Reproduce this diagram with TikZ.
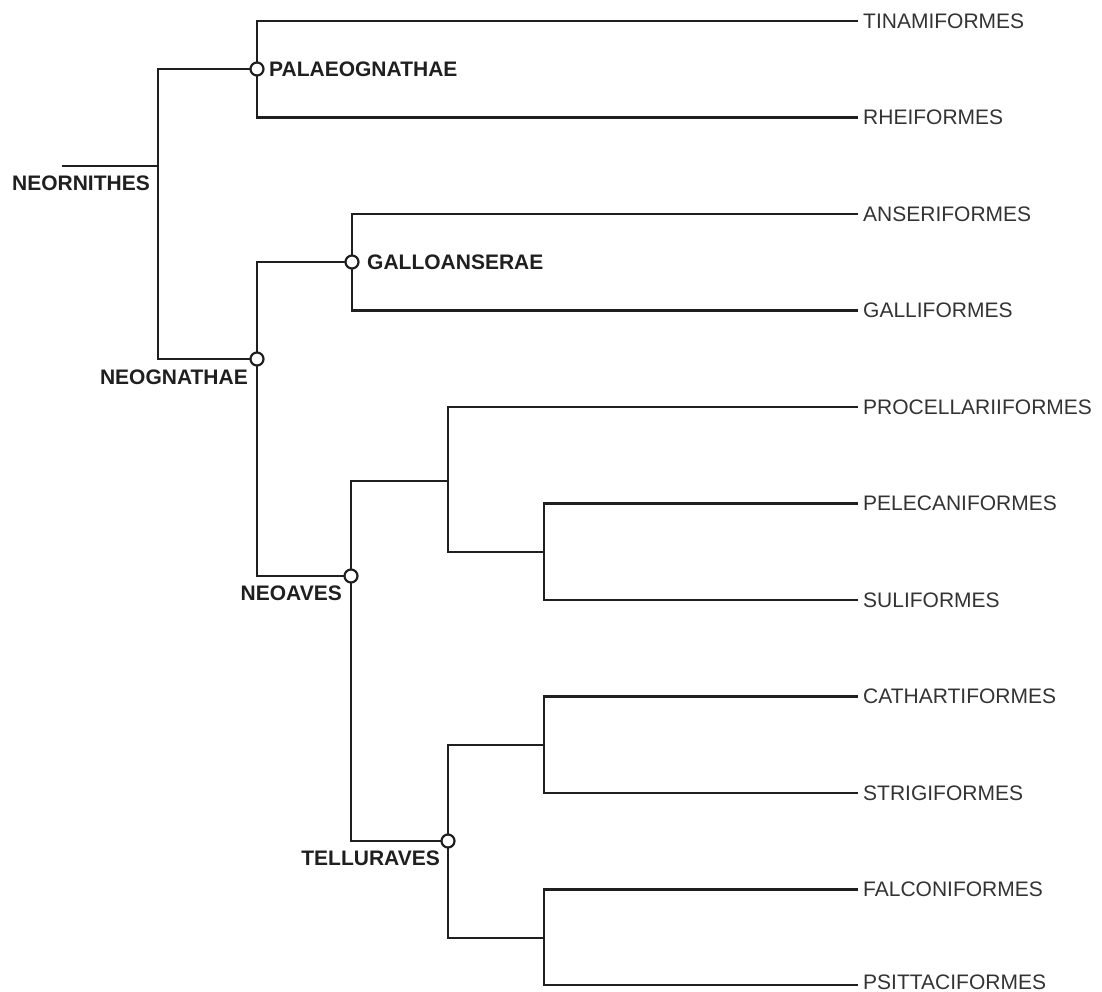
\documentclass[tikz,border=0pt]{standalone}
\usepackage{fontspec}
\setmainfont{Liberation Sans}
\begin{document}
\begin{tikzpicture}[x=1pt,y=-1pt,
  branch/.style={line width=2.8pt,draw=black!88,line cap=rect},
  cladecirc/.style={circle,draw=black!88,line width=2.2pt,fill=white,minimum size=13pt,inner sep=0pt},
  leaflab/.style={anchor=west,inner sep=0pt,text=black!80,font=\fontsize{21}{25}\selectfont},
  cladelab/.style={inner sep=0pt,text=black!88,font=\fontsize{21}{25}\selectfont\bfseries}]
\useasboundingbox (0,0) rectangle (1102,992);
% tree points
\coordinate (r0) at (63,166);
\coordinate (r) at (158,166);
\coordinate (palaeo) at (257,69);
\coordinate (neog) at (257,359);
\coordinate (gallo) at (352,262);
\coordinate (neoaves) at (351,576);
\coordinate (procc) at (448,481);
\coordinate (pelc) at (544,552);
\coordinate (tell) at (448,841);
\coordinate (cathc) at (544,745);
\coordinate (falc) at (544,938);
% leaf ends
\coordinate (tinE) at (857,21);
\coordinate (rheE) at (857,117.5);
\coordinate (ansE) at (857,214);
\coordinate (galE) at (857,310.5);
\coordinate (proE) at (857,407);
\coordinate (pelE) at (857,503.5);
\coordinate (sulE) at (857,600);
\coordinate (catE) at (857,696.5);
\coordinate (strE) at (857,793);
\coordinate (falE) at (857,889.5);
\coordinate (psiE) at (857,985);
% leaf labels
\node[leaflab] (tin) at (863,21) {TINAMIFORMES};
\node[leaflab] (rhe) at (863,117.5) {RHEIFORMES};
\node[leaflab] (ans) at (863,214) {ANSERIFORMES};
\node[leaflab] (gal) at (863,310.5) {GALLIFORMES};
\node[leaflab] (pro) at (863,407) {PROCELLARIIFORMES};
\node[leaflab] (pel) at (863,503.5) {PELECANIFORMES};
\node[leaflab] (sul) at (863,600) {SULIFORMES};
\node[leaflab] (cat) at (863,696.5) {CATHARTIFORMES};
\node[leaflab] (str) at (863,793) {STRIGIFORMES};
\node[leaflab] (fal) at (863,889.5) {FALCONIFORMES};
\node[leaflab] (psi) at (863,982.5) {PSITTACIFORMES};
% branches
\draw[branch] (r0) -- (r);
\draw[branch] (palaeo) -| (r) |- (neog);
\draw[branch] (tinE) -| (palaeo) |- (rheE);
\draw[branch] (gallo) -| (neog) |- (neoaves);
\draw[branch] (ansE) -| (gallo) |- (galE);
\draw[branch] (procc) -| (neoaves) |- (tell);
\draw[branch] (proE) -| (procc) |- (pelc);
\draw[branch] (pelE) -| (pelc) |- (sulE);
\draw[branch] (cathc) -| (tell) |- (falc);
\draw[branch] (catE) -| (cathc) |- (strE);
\draw[branch] (falE) -| (falc) |- (psiE);
% clade circles
\node[cladecirc] (cpalaeo) at (palaeo) {};
\node[cladecirc] (cneog) at (neog) {};
\node[cladecirc] (cgallo) at (gallo) {};
\node[cladecirc] (cneoaves) at (neoaves) {};
\node[cladecirc] (ctell) at (tell) {};
% clade labels
\node[cladelab,anchor=east] (lneorn) at (150,183) {NEORNITHES};
\node[cladelab,anchor=west] (lpalaeo) at (269,69) {PALAEOGNATHAE};
\node[cladelab,anchor=west] (lgallo) at (367,262) {GALLOANSERAE};
\node[cladelab,anchor=east] (lneog) at (248,377) {NEOGNATHAE};
\node[cladelab,anchor=east] (lneoaves) at (342,593) {NEOAVES};
\node[cladelab,anchor=east] (ltell) at (440,858) {TELLURAVES};
\end{tikzpicture}
\end{document}
